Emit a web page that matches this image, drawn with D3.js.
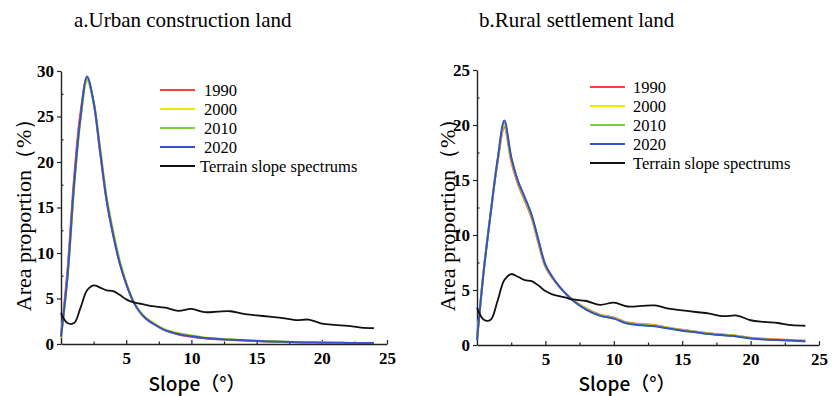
<!DOCTYPE html>
<html>
<head>
<meta charset="utf-8">
<script src="https://cdn.jsdelivr.net/npm/d3@7"></script>
<style>
  body { margin: 0; background: #fff; }
</style>
</head>
<body>
<div id="chart"></div>
<script>
// slope classes (degrees) and area proportions (%)
var slopes = [0,0.5,1,1.5,2,2.5,3,3.5,4,4.5,5,5.5,6,6.5,7,8,9,10,11,12,13,14,15,16,17,18,19,20,21,22,23,24]

var urban1990 = [0.9,8.2,18.2,25.5,29.2,26.5,21.0,15.7,12.0,8.9,6.6,4.8,3.6,2.8,2.3,1.5,1.05,0.8,0.62,0.52,0.45,0.38,0.32,0.27,0.23,0.19,0.16,0.14,0.12,0.11,0.1,0.1]
var urban2000 = [0.7,7.2,17.0,24.6,28.9,26.7,21.6,16.2,12.5,9.2,6.8,4.9,3.7,2.9,2.4,1.6,1.2,0.95,0.72,0.6,0.52,0.44,0.36,0.3,0.26,0.22,0.19,0.16,0.14,0.13,0.11,0.1]
var urban2010 = [0.75,7.3,17.2,24.8,29.1,26.6,21.4,16.0,12.3,9.1,6.7,4.85,3.65,2.85,2.35,1.55,1.15,0.9,0.7,0.58,0.5,0.42,0.35,0.3,0.25,0.21,0.18,0.16,0.14,0.12,0.11,0.1]
var urban2020 = [0.8,7.5,17.5,25.0,29.4,26.6,21.2,15.8,12.0,8.9,6.6,4.8,3.6,2.8,2.3,1.5,1.1,0.85,0.65,0.55,0.48,0.4,0.33,0.28,0.24,0.2,0.17,0.15,0.13,0.12,0.1,0.1]

var rural1990 = [0.5,6.9,12.0,16.6,19.8,16.7,14.6,13.1,11.5,9.2,7.1,6.1,5.3,4.65,4.1,3.3,2.75,2.5,2.05,1.9,1.8,1.58,1.38,1.22,1.07,0.95,0.85,0.66,0.56,0.5,0.45,0.38]
var rural2000 = [0.48,6.85,12.0,16.7,20.0,16.9,14.75,13.25,11.65,9.35,7.2,6.15,5.32,4.65,4.08,3.27,2.72,2.46,2.01,1.86,1.76,1.55,1.35,1.19,1.04,0.92,0.82,0.63,0.53,0.48,0.43,0.36]
var rural2010 = [0.46,6.8,12.0,16.75,20.2,17.0,14.85,13.35,11.75,9.45,7.25,6.18,5.33,4.65,4.06,3.23,2.68,2.43,1.98,1.83,1.73,1.52,1.32,1.17,1.02,0.9,0.8,0.62,0.52,0.46,0.42,0.35]
var rural2020 = [0.45,6.8,12.0,16.8,20.4,17.1,14.9,13.4,11.8,9.5,7.3,6.2,5.35,4.65,4.05,3.2,2.65,2.4,1.95,1.8,1.7,1.5,1.3,1.15,1.0,0.88,0.78,0.6,0.5,0.45,0.4,0.33]

var terrain = [3.4,2.3,2.3,4.0,5.9,6.45,6.2,5.9,5.8,5.4,4.9,4.6,4.45,4.3,4.15,4.0,3.65,3.85,3.5,3.55,3.6,3.3,3.15,3.0,2.85,2.62,2.68,2.25,2.1,2.0,1.8,1.75]

var years = ["1990", "2000", "2010", "2020"]
var yearColors = ["#ff3d3d", "#eeea00", "#7dcf3a", "#3552c6"]
var terrainLabel = "Terrain slope spectrums"
var xTicks = [5, 10, 15, 20, 25]

const W = 838, H = 396
const SERIF = "'Liberation Serif', 'Times New Roman', serif"

const svg = d3.select("#chart").append("svg")
  .attr("width", W)
  .attr("height", H)
  .style("background", "#fff")

// one panel = title, axes, 4 year curves, terrain curve, legend
function drawPanel(p) {
  var x = d3.scaleLinear().domain([0, 25]).range([p.left, p.right])
  var y = d3.scaleLinear().domain([0, p.yMax]).range([p.bottom, p.top])

  var g = svg.append("g")

  g.append("text")
    .attr("x", p.titleX).attr("y", 27)
    .style("font-family", SERIF).style("font-size", "21px")
    .text(p.title)

  // minor ticks every 2.5
  var yMinor = d3.range(2.5, p.yMax, 5)
  g.append("g").attr("transform", `translate(${p.left},0)`)
    .call(d3.axisLeft(y).tickValues(yMinor).tickSize(-2.5).tickFormat(""))
    .call(a => a.select(".domain").remove())
  g.append("g").attr("transform", `translate(0,${p.bottom})`)
    .call(d3.axisBottom(x).tickValues(d3.range(2.5, 25, 5)).tickSize(-2.5).tickFormat(""))
    .call(a => a.select(".domain").remove())

  g.append("g").attr("class", "ax").attr("transform", `translate(${p.left},0)`)
    .call(d3.axisLeft(y).tickValues(d3.range(0, p.yMax + 1, 5)).tickSizeInner(4).tickSizeOuter(0).tickPadding(3))
  g.append("g").attr("class", "ax").attr("transform", `translate(0,${p.bottom})`)
    .call(d3.axisBottom(x).tickValues(xTicks).tickSizeInner(-4).tickSizeOuter(0).tickPadding(8))

  g.selectAll(".ax .tick text")
    .style("font-family", SERIF).style("font-size", "17px").style("font-weight", "700")
    .attr("fill", "#000")
  g.selectAll(".domain").attr("stroke", "#222").attr("stroke-width", 1.4)
  g.selectAll(".tick line").attr("stroke", "#222").attr("stroke-width", 1.2)

  var line = d3.line()
    .x((d, i) => x(slopes[i]))
    .y(d => y(d))
    .curve(d3.curveCatmullRom.alpha(0.5))

  p.series.forEach(function(s, i) {
    g.append("path").datum(s)
      .attr("d", line)
      .attr("fill", "none")
      .attr("stroke", yearColors[i])
      .attr("stroke-width", 2)
  })
  g.append("path").datum(terrain)
    .attr("d", line)
    .attr("fill", "none")
    .attr("stroke", "#111")
    .attr("stroke-width", 1.8)

  // legend
  var names = years.concat([terrainLabel])
  var cols = yearColors.concat(["#111"])
  names.forEach(function(n, i) {
    var ly = p.legY + i * p.legStep
    g.append("line")
      .attr("x1", p.legX).attr("x2", p.legX + 35)
      .attr("y1", ly).attr("y2", ly)
      .attr("stroke", cols[i]).attr("stroke-width", 2)
    g.append("text")
      .attr("x", i < 4 ? p.legTextX : p.legTextX2)
      .attr("y", ly + 5.5)
      .style("font-family", SERIF).style("font-size", "16.5px")
      .text(n)
  })

  // axis titles
  g.append("text")
    .attr("transform", `translate(${p.yLabX},${(p.top + p.bottom) / 2 + 2}) rotate(-90)`)
    .attr("text-anchor", "middle")
    .style("font-family", SERIF).style("font-size", "22px")
    .text("Area proportion（%）")

  g.append("text")
    .attr("x", p.xLabX).attr("y", 391)
    .attr("text-anchor", "middle")
    .style("font-family", "'Noto Sans CJK SC', 'Noto Sans', sans-serif").style("font-size", "19px")
    .style("font-weight", "500")
    .text("Slope（°）")
}

drawPanel({
  title: "a.Urban construction land", titleX: 74,
  left: 61, right: 387, top: 71, bottom: 344, yMax: 30,
  series: [urban1990, urban2000, urban2010, urban2020],
  legX: 160, legY: 90, legStep: 19, legTextX: 204, legTextX2: 200,
  yLabX: 31, xLabX: 197
})

drawPanel({
  title: "b.Rural settlement land", titleX: 479,
  left: 477, right: 819, top: 70, bottom: 345, yMax: 25,
  series: [rural1990, rural2000, rural2010, rural2020],
  legX: 590, legY: 87, legStep: 19, legTextX: 633, legTextX2: 633,
  yLabX: 455, xLabX: 627
})
</script>
</body>
</html>
